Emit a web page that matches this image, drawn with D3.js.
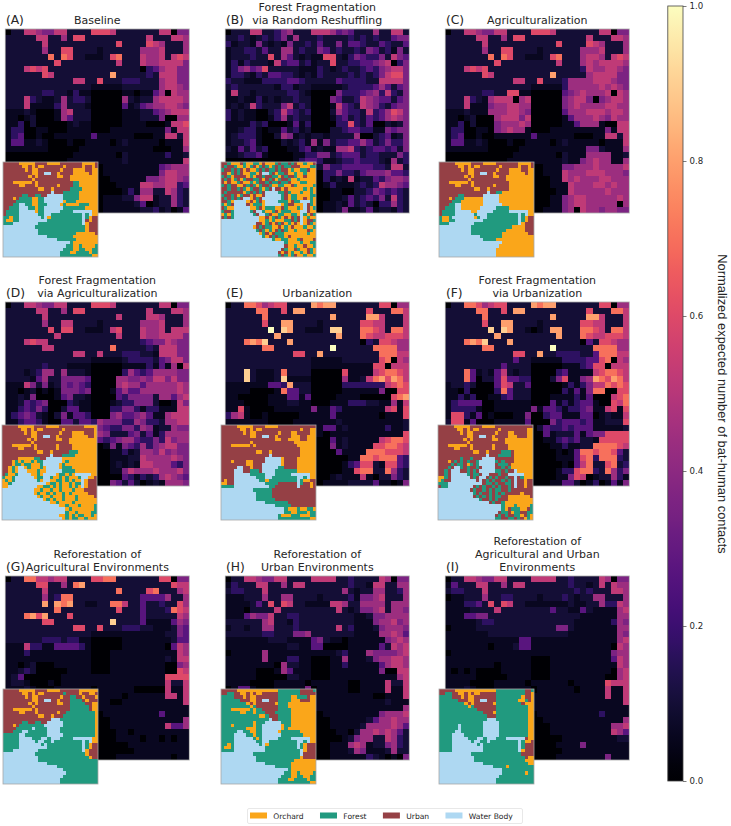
<!DOCTYPE html>
<html>
<head>
<meta charset="utf-8">
<script src="https://cdn.jsdelivr.net/npm/d3@7/dist/d3.min.js"></script>
<style>
  html, body { margin: 0; padding: 0; background: #fff; }
  text { font-family: "DejaVu Sans", sans-serif; fill: #262626; }
</style>
</head>
<body>
<svg id="chart" width="731" height="826"></svg>
<script>
// Contact level codes used in the grids below, and the normalized value of each.
const heatCodes = "0123456789abc";
const heatValues = [0, 0.06, 0.1, 0.17, 0.27, 0.36, 0.44, 0.52, 0.6, 0.7, 0.8, 0.9, 1];

const landNames = ["Orchard", "Forest", "Urban", "Water Body"];
const landCodes = ["o", "f", "u", "w"];
const landColors = ["#faa61a", "#219a7f", "#954045", "#aed8f2"];
const colorbarTicks = [0, 0.2, 0.4, 0.6, 0.8, 1];
const colorbarTitle = "Normalized expected number of bat-human contacts";

const letters = ["(A)", "(B)", "(C)", "(D)", "(E)", "(F)", "(G)", "(H)", "(I)"];
const titles = [
  ["Baseline"],
  ["Forest Fragmentation", "via Random Reshuffling"],
  ["Agriculturalization"],
  ["Forest Fragmentation", "via Agriculturalization"],
  ["Urbanization"],
  ["Forest Fragmentation", "via Urbanization"],
  ["Reforestation of", "Agricultural Environments"],
  ["Reforestation of", "Urban Environments"],
  ["Reforestation of", "Agricultural and Urban", "Environments"]
];

const heatA = [
"0227765577 2222888722 2222277055",
"2222277226 2882222222 2227222776",
"2222227222 2222222282 2228762226",
"2222226228 8222212222 2266672226",
"2222222929 8221112892 2276672787",
"2222222282 2222222272 2276677775",
"2227878222 2222222222 2203467755",
"2222228722 2222222a22 2223277755",
"2222222222 2772282223 3322267755",
"2222222222 2222111112 2222267765",
"2222223322 1311000001 1011460766",
"2227321126 2332000006 2122677776",
"2227111136 2221000004 1245667765",
"1112100016 7222000001 1122456777",
"1101200016 4222000001 1122250066",
"1130200000 1211000001 1110001778",
"1330011000 1111000111 1111115177",
"1340010011 1111411111 1000117727",
"1441121000 1001111012 1111101117",
"1111111000 0011111111 1111000116",
"0000000000 0111111102 1111113112",
"0000000000 1111111112 1111111117",
"0000000000 0000001111 1111145666",
"0000000000 0000001111 1111157766",
"0000000000 0000000111 1115567765",
"0000000000 0000000011 1177667734",
"0000000000 0000000001 3166227632",
"0000000000 0000001112 2577122632",
"0000000000 0000001111 1240122632",
"0000000000 0000001111 1122312014"];

const heatB = [
"0222772235 6222777645 4222622772",
"2232123235 2622232222 3232322455",
"3122152121 5223242252 4432243224",
"1223324226 6232254232 2325423152",
"1222322826 4212118821 3543352754",
"1313222173 4423122822 3344567035",
"1356458222 2211132123 2234356775",
"1332132443 3212132222 3232357885",
"3221113333 4432222243 3332277775",
"2322222213 3122111112 3333464245",
"1722122222 3321000053 3345637325",
"1121131212 2322000542 2376544245",
"1212732225 7232000174 3276532455",
"3121100237 4323000264 3327346875",
"3121100136 2322000134 2324346765",
"1111323000 1413000033 8324002125",
"1123310114 2312000223 4433115455",
"1233310026 5121221222 2600234125",
"1223410002 1231615233 4464235335",
"2142423000 1134121166 7323443425",
"1123341000 0113355234 4423322253",
"0000000000 0134431123 3433321623",
"0000000000 0122125334 4444332772",
"0000000000 0000003353 3245556443",
"0000000000 0000003121 7122435665",
"0000000000 0000001311 1232376654",
"0000000000 0000000110 0223543432",
"0000000000 0000000112 4234352732",
"0000000000 0000001121 4232033632",
"0000000000 0000001125 1124122132"];

const heatC = [
"0227765577 2222888722 2222277055",
"2222277226 2882222222 2227222776",
"2222227222 2222222282 2228762226",
"2222226228 8222212222 2266672226",
"2222222929 8221112892 2267762787",
"2222222282 2222222272 2267677776",
"2227878222 2222222222 2237667765",
"2222228722 2222222a22 2226777755",
"2222222222 2772282223 6666777655",
"2222222222 2222111113 6666676765",
"2222223322 8811000004 5676667076",
"2227321677 7067000005 6775056776",
"2227111566 7766000005 6766667766",
"1112111666 7765000004 6667776776",
"1101200067 7757000001 4666765766",
"1130200056 6676000001 1466610077",
"1330011056 7661000111 1111115177",
"1340010011 1111411111 1000117727",
"1441121000 1001111012 1111101117",
"1111111000 0011111111 1115521116",
"0000000000 0111111102 1116666112",
"0000000000 1111111112 1156766116",
"0000000000 0000001115 5666766667",
"0000000000 0000001117 6667776665",
"0000000000 0000000117 6766677666",
"0000000000 0000000111 7666776766",
"0000000000 0000000011 7666667666",
"0000000000 0000000115 6776666676",
"0000000000 0000000115 6776666606",
"0000000000 0000001115 6076656655"];

const heatD = [
"0227765577 2222888722 2222277055",
"2222277226 2882222222 2227222776",
"2222227222 2222222272 2227762226",
"2222226227 7222212222 2266672226",
"2222222828 8221112782 2276672777",
"2222222272 2222222272 2276677775",
"2227877222 2222222222 2234557655",
"2222227722 2222222922 2223277755",
"2222222222 2772272223 3322177755",
"2222222222 2222111112 3333245775",
"2222223222 1111000001 1113141607",
"2221236626 2221000003 6434666655",
"2222146225 5554000066 5565775755",
"1117525125 4543000067 6646666676",
"1101201015 5545000146 4466666676",
"1121500014 5221000043 5555266467",
"1124345000 3211000123 3555200175",
"1134353002 4411000335 5313311177",
"1345421025 1443000564 4564116777",
"1134431004 4244365553 3653326677",
"1545324100 0155654335 5365122655",
"4565335000 0117665222 4524136666",
"0000000000 0000043456 6433537566",
"0000000000 0000001515 4363567755",
"0000000000 0000000113 1266575655",
"0000000000 0000000111 2276666765",
"0000000000 0000000121 2177666435",
"0000000000 0000000115 7666766675",
"0000000000 0000000004 3132367654",
"0000000000 0000000542 4201216665"];

const heatE = [
"0229986788 2222a9aa22 2222288066",
"2222299228 2aa2222222 2228222997",
"2222229222 2222222a22 222aa72227",
"222222822a a222212222 2288772227",
"2222222c2b a221112bb2 2299872997",
"22222222a2 22222222a2 2298778887",
"2229a9b222 a222222222 2203288766",
"2222229922 2222222c22 2222999966",
"2222222222 2882 2a2222 2222299977",
"2222222222 2222111112 2222289076",
"2222222222 2222111111 1111880777",
"222b211129 2222000008 1111789987",
"222b21112b 1111000006 1127 9a8a97",
"1111111443 a222000003 3333337898",
"1111000019 4422000001 1111150088",
"1100000111 4414000011 110000089a",
"1110000111 2211000111 3332211617",
"1181000011 1111511431 1111117818",
"3671001000 0011111411 1111101118",
"1111111000 0111111121 1111111112",
"0000000000 0111114412 1111113112",
"0000000000 1111110111 1111111118",
"0000000000 0000000412 1111178998",
"0000000000 0000000512 1111889987",
"0000000000 0000000041 1119998887",
"0000000000 0000000000 1199899943",
"0000000000 0000000001 3488218843",
"0000000000 0000000001 1899229632",
"0000000000 0000000121 1171022532",
"0000000000 0000001111 2222411015"];

const heatF = [
"0229986788 2222a9aa22 2222288066",
"2222299228 2aa2222222 2228222997",
"2222229222 2222222a22 222aa72227",
"222222822a a222212222 2288772227",
"2222222b2b a221012aa2 2299872997",
"22222222a2 22222222a2 2298778887",
"2229a9b222 a222222222 2204288766",
"2222229922 2222222c22 2222999966",
"2222222222 2882 2a2233 3322499977",
"2222222222 2422111113 3334489076",
"2222222224 2222000001 1134880777",
"2229412147 2122000034 1111789987",
"2229402248 4433000258 1156a98a97",
"1223200048 7224000001 3135779898",
"1103000039 4222000003 1415990088",
"1131300113 4222000111 1314000789",
"1344440011 1111000413 1344100879",
"1333310011 1111514431 3345117818",
"1883140100 0115003441 1144012117",
"2881400011 1114000534 4434112228",
"0000000000 0000024334 3444111112",
"0000000000 0000004122 2414558888",
"0000000000 0000001134 3422188888",
"0000000000 0000000113 1122999987",
"0000000000 0000000010 1499899842",
"0000000000 0000000011 1489399932",
"0000000000 0000000001 0479228923",
"0000000000 0000000013 3899329635",
"0000000000 0000000011 5870122631",
"0000000000 0000000114 4201301415"];

const heatG = [
"0229977677 2222889922 2222288055",
"2222288226 29a2222222 2222222877",
"2222227222 2222222292 2228922267",
"2222226239 9222222222 2244446226",
"222222a2a9 a221122997 2242232286",
"2222222292 2222222282 2242223987",
"2229a8a222 8222222222 2242222276",
"2222228822 2222222b22 2241111465",
"2222222222 2882282223 3322111254",
"2222222222 2222111111 1111112254",
"2222223332 3311000001 1111111244",
"1117331144 4431000001 1111110476",
"1113111111 1111000111 1111111176",
"1111111111 1111000111 1111112177",
"1101200011 1111000111 1111110056",
"1123200000 1111000111 1111110087",
"1240000001 1111111111 1111118888",
"1221000101 1111111111 1111117227",
"1112100011 1111011111 1000007117",
"1111111000 0111111110 1111117717",
"0000000000 0111111001 1111111117",
"0000000000 1111111111 1111111111",
"0000000000 0000001111 1111141111",
"0000000000 0000000111 1111111116",
"0000000000 0000000111 1111117446",
"0000000000 0000000011 0111111111",
"0000000000 0000000011 1101101011",
"0000000000 0000000000 1111111111",
"0000000000 0000000000 0111111111",
"0000000000 0000000011 1111111011"];

const heatH = [
"0227765577 2222777722 3222276055",
"1322277226 2772222222 3221772266",
"2332227222 2222222226 2122662236",
"1112226226 6222212222 3155672226",
"1111242828 7221111776 2266662666",
"1110222272 2222222272 1255672665",
"1114655722 3322222222 2112556666",
"2222226722 1322222222 2111566756",
"1221226622 2322222272 3111256665",
"2222223322 2556222222 2111166764",
"1111111222 1111452110 1111115676",
"1111111111 2211440000 1111142767",
"0111116111 1111111123 1116555567",
"1111116111 3311000116 1112566776",
"1111111106 2211000113 1111146776",
"1111100016 4111000111 1111150077",
"1111100000 2211000111 1111111167",
"1111000011 1110111111 0011117227",
"0144100011 1115011111 0011117117",
"1111111000 0011111111 1111001117",
"0000000000 0111111111 1111112111",
"0000000000 1111111111 1111111116",
"0000000000 0000001111 1111156667",
"0000000000 0000000111 1112466766",
"0000000000 0000000111 1126666764",
"0000000000 0000000011 0266767642",
"0000000000 0000000001 2566227632",
"0000000000 0000000111 6761225632",
"0000000000 0000000111 2651112622",
"0000000000 0000000111 1113210105"];

const heatI = [
"0227765577 2222777722 3222276055",
"1422277226 2772222222 3221272766",
"2332227222 2222222222 2323222776",
"0112226223 3222212223 2122662226",
"1113342828 7221111111 2112263376",
"1111222272 2222222422 1142111167",
"1114455222 2222222222 2211111166",
"1111123322 2222222222 2111111365",
"0111122222 2222222255 2111111166",
"1111111222 2222222222 1111111165",
"1111111111 1144111111 1111111167",
"1111111011 1244111111 1111111076",
"0111111111 1111111111 1111111566",
"1111111111 1111000111 1111111476",
"1111111101 1111000111 1111111176",
"1010100001 1111000111 1111111067",
"1111100000 1111000111 1111110067",
"1111000011 1110111111 0111118777",
"1112100011 1111011111 1011117117",
"1111111000 0011111111 1111117117",
"0000000000 1111111111 1111111117",
"0000000000 1111111111 1111111111",
"0000000000 0000011111 1111131111",
"0000000000 0000001111 1111111116",
"0000000000 0000000111 1111111667",
"0000000000 0000000111 1111111764",
"0000000000 0000000001 1111111122",
"0000000000 0000000011 1151111111",
"0000000000 0000000001 1111111111",
"0000000000 0000000011 1111115111"];

const landA = [
"uuuuuooooo uuuuoooouu uuuuuoooou",
"uuuuuuoouo uoouuuuuuo uuuuuouuou",
"uuuuuuuouo ouuuuuuuou uuoooouuoo",
"uuuuuuuuuo ouuwwuuouu uuooooouoo",
"uuuuuuuuou ouuuuuuoou uooooooooo",
"uuuuuuuuuo uuuuuuuuuu uooooooooo",
"uuuoooooou ouuuuuuuuu uuffoooooo",
"uuuuuoouuu ouuuuuuouu uuffoooooo",
"uuuuuuuuuu uoouuouuuu uffffooooo",
"uuuuuuuuuu uuuuuwuuuf ffffoooooo",
"uuuuuuffuu ffuuwwwwwf ffffoooooo",
"uuuouffffo offwwwwwwf ffffoooooo",
"uuuufffffo offwwwwwwo fffooooooo",
"uuuffwwffo offfwwwwof oooofffooo",
"uufffwwwff offwwwwwwf ffffffoooo",
"uffffwwwww offwwwwwff ffwwwwwwoo",
"uffffwwwww wffwwfffff fffffwfwoo",
"ffoffwwwww wwfwofffff fffffwfouu",
"fooffwwwww wwwwffffff fffffwuouu",
"fffwwwwwww wfffffffff fffffwouuu",
"wwwwwwwwww ffffffffff ffffffouuu",
"wwwwwwwwww wfffffffff ffffffouuu",
"wwwwwwwwww wfffffffff fffoooooou",
"wwwwwwwwww wwwwffffff ffoooooooo",
"wwwwwwwwww wwwwwwwfff fffooooooo",
"wwwwwwwwww wwwwwwwwww wfoooooooo",
"wwwwwwwwww wwwwwwwwww ffoofoooof",
"wwwwwwwwww wwwwwwwwwf ffooffooff",
"wwwwwwwwww wwwwwwwwff fooffffoff",
"wwwwwwwwww wwwwwwwwff ffffffffoo"];

const landB = [
"uufoooufoo ffouooofuf fufuoofoou",
"ufuufoofof uofufofufu ffuuuoooff",
"fuufufuouo ofufuffufu uofooffuoo",
"uuofufuoof fouwwfuoff uoofoofooo",
"fufouuuuof ouufuuffou fuufoouooo",
"ufuofuofuu ffuoufuofu ufoofooooo",
"uouoofuoof ofuufuffuf fuoooffooo",
"fufuuooufu fofuufooff ooufooooof",
"uufuufufof uufofuwuuo uooooofofo",
"ufuuuuuofu fufuwwwwff ufooofoofo",
"fuufuofuuo uoouwwwwwf uoffooooff",
"ufufufuwwo ufuwwwwwwf uoffoouofo",
"uufowwwwou ofuowwwwff fouffwwwfo",
"fofuwwwwuo fffowwwwwo fuuooowufo",
"ufoowwwwwo ofuofffoou fooofowuof",
"fuufwwwwwf uwwfoofuof ffooowwuoo",
"ofofwwwwww fuwwfuooff ooffowfouf",
"ufufwwwwww wwoouofufo uoufuwofoo",
"wwwwwwwwww wwoofofooo ffufuwouuf",
"wwwwwwwwww wuuofuoufu ofouowoufo",
"wwwwwwwwww oufuffoouo fouooofoof",
"wwwwwwwwww wfufofoufu foofoooufo",
"wwwwwwwwww wwofuoufff ooooooofoo",
"wwwwwwwwww wwwfoufuff ouoooooooo",
"wwwwwwwwww wwwwwwfoof fooofuooou",
"wwwwwwwwww wwwwwwwwww foooofooff",
"wwwwwwwwww wwwwwwwwww uoofoouoof",
"wwwwwwwwww wwwwwwwwwu fooufooufo",
"wwwwwwwwww wwwwwwwwuo uofoofoufo",
"wwwwwwwwww wwwwwwwwfu fofuoofoof"];

const landC = [
"uuuuuooooo uuuuoooouu uuuuuoooou",
"uuuuuuoouo uoouuuuuuo uuuuuouuou",
"uuuuuuuouo ouuuuuuuou uuoooouuoo",
"uuuuuuuuuo ouuwwuuouu uuooooouoo",
"uuuuuuuuou ouuuuuuoou uooooooooo",
"uuuuuuuuuo uuuuuuuuuu uooooooooo",
"uuuoooooou ouuuuuuuuu uuoooooooo",
"uuuuuoouuu ouuuuuuouu uuoooooooo",
"uuuuuuuuuu uoouuouuuu uuoooooooo",
"uuuuuuuuuu uuuuuwuuff oooooooooo",
"uuuuuuffuu uuuuwwwwwo oooooooooo",
"uuuoufffoo oooowwwwwo oooooooooo",
"uuuufffooo oooowwwwwo oooooooooo",
"uuuffwwooo oooowwwwww oooooooooo",
"uufffwwooo ooowwwwwff ffoooooooo",
"uffffwwwww oowwwwwfff ffwwwwwwoo",
"uffffwwwww wfwwwfffff fffffwfwoo",
"foofwwwwww wofwwfffff fffffwfouu",
"fooffwwwww wwwwffffff fffffwfouu",
"fffwwwwwww wfffffffff fffffwouuu",
"wwwwwwwwww ffffffffff fffoooouuu",
"wwwwwwwwww ffffffffff foooooouuu",
"wwwwwwwwww ffffffffff oooooooouu",
"wwwwwwwwww wwwfffffff oooooooooo",
"wwwwwwwwww wwwwffffoo oooooooooo",
"wwwwwwwwww wwwwwwwwww oooooooooo",
"wwwwwwwwww wwwwwwwwwo oooooooooo",
"wwwwwwwwww wwwwwwwwoo oooooooooo",
"wwwwwwwwww wwwwwwwwoo oooooooooo",
"wwwwwwwwww wwwwwwwwoo oooooooooo"];

const landD = [
"uuuuuooooo uuuuoooouu uuuuuuoooo",
"uuuuuuoouo uoouuuuuuo uuuuuuuuuo",
"uuuuuuuouo ouuuuuuuou uuoooouuuo",
"uuuuuuuuuo ouuwwuuouu uuooooouuo",
"uuuuuuuuou ouuuuuuoou uooooooooo",
"uuuuuuuuuo uuuuuuuuuu uooooooooo",
"uuuoooooou ouuuuuuouu uuoooooooo",
"uuuuuoouuu ouuuuuuouu uuoooooooo",
"uuuuuuuuuu uoouuouuuu ufffoooooo",
"uuuuuuuuuu uuuuuwuuuf fffooooooo",
"uuuuuooooo ffuuwwwwwo oooooooooo",
"uuuofofoof offwwwwwwo fooooooooo",
"uuuoffoffo oofwwwwwof oooooooooo",
"uuofowwofo oofowwwwof ffoooooooo",
"uuofowwwoo ofoowwwwwf fffooooooo",
"ufoofwwwwo ofowwwwoff ofowwwwwoo",
"foofwwwwww offwwfoofo fooofwwoou",
"ofofwwwwww wfowwooffo fofoowouuu",
"oofwwwwwww wwwwoffofo ofoffwouuu",
"oowwwwwwww wooffofofo ofofowouuu",
"wwwwwwwwww oofoofoofo oofooouuuu",
"wwwwwwwwww ofoofofoof ofooooouuu",
"wwwwwwwwww wofoofooof ooofooooou",
"wwwwwwwwww wwwofofoof ooofoooooo",
"wwwwwwwwww wwwwwoofoo oofooooooo",
"wwwwwwwwww wwwwwwwwoo fooofoooof",
"wwwwwwwwww wwwwwwwwww ofooooooof",
"wwwwwwwwww wwwwwwwwww foofooooff",
"wwwwwwwwww wwwwwwwwoo fofoffoofo",
"wwwwwwwwww wwwwwwwwwo foffoofooo"];

const landE = [
"uuuuuooooo uuuuoooouu uuuuuuuuuu",
"uuuuuuoouo uoouuuuuuu uuuuuouuoo",
"uuuuuuuouo ouuuuuuuou uuoouuuuoo",
"uuuuuuuuuo ouuwwuuouu uuooouuooo",
"uuuuuuuuuu uuuuuuuoou uoooouuooo",
"uuuuuuuuuo uuuuuuuuuu uuuooooooo",
"uuuoooooou ouuuuuuuuu uuuuoooooo",
"uuuuuuuuuu uuuuuuuuuu uuuuuooooo",
"uuuuuuuuuu uoouuouuuu uuuuuooooo",
"uuuuuuuuuu uuuuuwuuuu uuuuuooooo",
"uuuuuuuuuu uuuuwwwwwo uuuuoooooo",
"uuuouuuuoo uuuuwwwwwo uuuuoooooo",
"uuuuuuuuoo uuuwwwwwwo uuuuoooooo",
"uuuuuwwuuo uuuwwwwwff uuuuoooooo",
"uuuuwwwuuf ffuwwwwfff ffffoooooo",
"uuuuwwwwwf ffffwwwfff ffwwwwwwoo",
"uuuuwwwwww wfffwwffff ffffwwfwoo",
"uouuwwwwww wwffofffff ffffwfoouu",
"oouuwwwwww wwwwffffuu uuuuwfuuou",
"ffffwwwwww wwwwwffuuu uuuuwuuuou",
"wwwwwwwwww ffffffuuuu uuuuuuuuuu",
"wwwwwwwwww wfffffuuuu uuuuuuuuuu",
"wwwwwwwwww wfffffuuuu uuuuuuuuuu",
"wwwwwwwwww wffffffuuu uuuuuuuuuu",
"wwwwwwwwww wwwwffffff fuuuuuuuuu",
"wwwwwwwwww wwwwwwwfff ffuuuuuuuu",
"wwwwwwwwww wwwwwwwwww fooofooffo",
"wwwwwwwwww wwwwwwwwww ffoofffoff",
"wwwwwwwwww wwwwwwwwfo oofffoooff",
"wwwwwwwwww wwwwwwwwff ffffffffoo"];

const landF = [
"uuuuuooooo uuuuoooouu uuuuuuuuuu",
"uuuuuuoouo uoouuuuuuo uuuuuuuuoo",
"uuuuuuuouo ouuuuuuuou uuoouuuuoo",
"uuuuuuuuuo ouuwwuuouu uuooouuuoo",
"uuuuuuuuou ouuuuuuoou uooooooooo",
"uuuuuuuuuo uuuuuuuuuu uooooooooo",
"uuuoooooou ouuuuuuouu uuoooooooo",
"uuuuuoouuu ouuuuuuouu uuoooooooo",
"uuuuuuuuuu uoouuouuuu fffuoooooo",
"uuuuuuuuuu uuuuuwuuuf fffuoooooo",
"uuuuuuufuu fuuuwwwwuu uuuuoooooo",
"uuuoufufuf uufwwwwwfu fuuuoooooo",
"uuuufuffuo fufwwwwwuf ffuooooooo",
"uuufuwwfuf uufuwwwwuu fufooooooo",
"uufuwwwuuf ufuwwwwwff ufuuwooooo",
"uufuwwwwwf uffuwwuuuf uuwwwwwooo",
"oofuwwwwww ufuwwufufu ufuuwufooo",
"ofuuwwwwww wwuwufufuu fufuwuuouu",
"fffwwwwwww wwwwuffufu uffuwuuouu",
"uffwwwwwww wufufuufuf uufuwuuouu",
"wwwwwwwwww ufuufufuff uufuuuuuuu",
"wwwwwwwwww wfufuufufu fuuuuuouuu",
"wwwwwwwwww wufufufuff uuooooooou",
"wwwwwwwwww wwwfuufufu uuoooooooo",
"wwwwwwwwww wwwwwwufuu fooooooooo",
"wwwwwwwwww wwwwwwwwww fooofoooof",
"wwwwwwwwww wwwwwwwwww foufffoouf",
"wwwwwwwwww wwwwwwwwwu ffuoffuuff",
"wwwwwwwwww wwwwwwwwuf ufuuffoufo",
"wwwwwwwwww wwwwwwwwff uuffufuofo"];

const landG = [
"uuuuuooooo uuuuoooouu uuuuoooooo",
"uuuuuuoouo uoouuuuuuf uuuuouuoou",
"uuuuuuuouo ouuuuuuuou uffuuouuuo",
"uuuuuuuuuo ouuwwuuouu uffffuouuu",
"uuuuuuuuou ouuuuuuoou ufffffuuoo",
"uuuuuuuuuo uuuuuuuuuu uffffffuoo",
"uuuoooooou ouuuuuuuuu uffffffuoo",
"uuuuuoouuu ouuuuuuouu fffffffffo",
"uuuuuuuuuu uoouuouuuf fffffffffo",
"uuuuuuuuuu uuuuuwwwff fffffffffo",
"uuuuuuffuu ffuuwwwwwf fffffffffo",
"uuuoufffff fffwwwwwwf fffffffffo",
"uuuufffffw ffffwwwwff fffffffffo",
"uuufffwwff ffffwwwwff fffffffffo",
"fffffwwfff ffffwwwwwf fffffffffo",
"fffffwwwwf ffwwfwwwff ffwwwwwwoo",
"fffffwwwww fwwffwffff fffffwfwoo",
"fffffwwwww wwfwffffff fffffwfouu",
"fffffwwwww wwwwffffff fffffwfouu",
"fffwwwwwww wfffffffff fffffwouuu",
"wwwwwwwwww ffffffffff ffffffouuu",
"wwwwwwwwww wfffffffff fffffffouu",
"wwwwwwwwww wfffffffff ffffffffff",
"wwwwwwwwww wwwwffffff ffffffffff",
"wwwwwwwwww wwwwwwwfff ffffffffff",
"wwwwwwwwww wwwwwwwwwf ffffffffff",
"wwwwwwwwww wwwwwwwwww ffffffffff",
"wwwwwwwwww wwwwwwwwwf ffffffffff",
"wwwwwwwwww wwwwwwwwff ffffffffff",
"wwwwwwwwww wwwwwwwwff ffffffffff"];

const landH = [
"uuuuuooooo ooooooooff fffffuuuuf",
"uuffuuoouo uoouuuuuff fffffuuuuu",
"ffffuuuouo ouuuuuuuff ffoofffuoo",
"ffffffuuuo ouuwwuuuff ffooouuuoo",
"ffffffffou ouuuuuuoff fooooooooo",
"fffffffffo fuuuuuuuff fooooooooo",
"fffoooooof offuuuuuff ffoooooooo",
"ffffffooff offfuuufff ffoooooooo",
"ffffffffff ffoofuuuff ffoooooooo",
"ffffffffff fffffwuuff ffoooooooo",
"ffffffffff offfwwwwwf ffoooooooo",
"fffoffffff offwwwwwwo ffoooooooo",
"ffffffffoo offwwwwwwo fooooooooo",
"fffffwwffo offwwwwwof fffffooooo",
"ffffwwwwff offwwwwwwf ffffffoooo",
"ffffwwwwww fofwwwwwff ffwwwwwwoo",
"ffffwwwwww wffwwfffff ffffwwfwoo",
"ffofwwwwww wwfwofffff ffffwfouuu",
"foofwwwwww wwwwffffff ffffwfouuu",
"ffffwwwwww wwwwffffff fffffwouuu",
"wwwwwwwwww ffffffffff fffffwuuuu",
"wwwwwwwwww wfffffffff fffffouuuu",
"wwwwwwwwww wfffffffff fffooooooo",
"wwwwwwwwww wwwwffffff ffoooooooo",
"wwwwwwwwww wwwwwwwfff ffoooooooo",
"wwwwwwwwww wwwwwwwwww wfoooooooo",
"wwwwwwwwww wwwwwwwwww ffoofoooof",
"wwwwwwwwww wwwwwwwwwf ffooffooff",
"wwwwwwwwww wwwwwwwwff fooffffoff",
"wwwwwwwwww wwwwwwwwff ffffffffoo"];

const landI = [
"uuuuuooooo ooooooooff fffffffuuf",
"uuffuuoouo uoouuuuuff fffffffuuo",
"ffffuuuouo ouuuuuuuff ffffffouuo",
"ffffffuuuo ouuwwuuuff fffffoofuo",
"ffffffffou ouuuuuuoff ffffffuooo",
"fffffffffo fuuuuuuuff ffffffffoo",
"ffffffffff ffuuuuuuff ffffffffoo",
"ffffffffff ffffuuuoff ffffffffoo",
"ffffffffff fffffuuuff ffffffffoo",
"ffffffffff fffffwwwff ffffffffoo",
"ffffffffff ffffwwwwwf ffffffffoo",
"ffffffwfff ffffwwwwwf ffffffffoo",
"ffffffwfff ffffwwwwwf ffffffffoo",
"fffffwwfff ffffwwwwwf ffffffffoo",
"ffffwwwwff ffffwwwwwf ffffffffoo",
"ffffwwwwwf ffwwfwwwff fwwwwwwuoo",
"ffffwwwwww fwwffwffff fffffwfoou",
"ffffwwwwww wwfwffffff fffffwfuuu",
"ffffwwwwww wwwwffffff fffffwfuuu",
"ffffwwwwww wwwwffffff fffffwouuu",
"wwwwwwwwww ffffffffff ffffffuuuu",
"wwwwwwwwww wfffffffff fffffffuoo",
"wwwwwwwwww wfffffffff fffffffooo",
"wwwwwwwwww wwwwffffff ffffffffoo",
"wwwwwwwwww wwwwwwwfff foffffffff",
"wwwwwwwwww wwwwwwwwww ffffffffff",
"wwwwwwwwww wwwwwwwwww fffffffoff",
"wwwwwwwwww wwwwwwwwwf ffffffffff",
"wwwwwwwwww wwwwwwwwff ffffffffff",
"wwwwwwwwww wwwwwwwwff ffffffffff"];

const heatGrids = [heatA, heatB, heatC, heatD, heatE, heatF, heatG, heatH, heatI];
const landGrids = [landA, landB, landC, landD, landE, landF, landG, landH, landI];

// Panel layout: heat map origin plus where each land-use inset sits.
const colX = [5.3, 225.3, 445.3];
const rowY = [29, 302, 576];
const insetX = [[3, 221, 439], [2, 221, 438], [3, 221, 439]];
const insetY = [162, 425, 689];
const heatSize = 184;
const insetSize = 95;

const svg = d3.select("#chart");
const color = d3.scaleSequential(d3.interpolateMagma).domain([0, 1]);
const levelScale = d3.scaleOrdinal().domain(heatCodes.split("")).range(heatValues);
const landScale = d3.scaleOrdinal().domain(landCodes).range(landColors);
const gridIndex = d3.range(30);

function cells(rows) {
  return rows.flatMap((row, r) =>
    row.replace(/\s/g, "").split("").slice(0, 30).map((code, c) => ({ r, c, code })));
}

function drawGrid(parent, rows, x0, y0, size, fill, strokeColor) {
  const x = d3.scaleBand().domain(gridIndex).range([x0, x0 + size]);
  const y = d3.scaleBand().domain(gridIndex).range([y0, y0 + size]);
  const g = parent.append("g");
  g.append("g").attr("shape-rendering", "crispEdges")
    .selectAll("rect").data(cells(rows)).join("rect")
    .attr("x", d => x(d.c)).attr("y", d => y(d.r))
    .attr("width", x.bandwidth()).attr("height", y.bandwidth())
    .attr("fill", fill);
  g.append("rect").attr("x", x0).attr("y", y0).attr("width", size).attr("height", size)
    .attr("fill", "none").attr("stroke", strokeColor).attr("stroke-width", 0.8);
}

heatGrids.forEach((grid, i) => {
  const col = i % 3, row = Math.floor(i / 3);
  const px = colX[col], py = rowY[row];
  const panel = svg.append("g");
  drawGrid(panel, grid, px, py, heatSize, d => color(levelScale(d.code)), "#aaaaaa");
  drawGrid(panel, landGrids[i], insetX[row][col], insetY[row], insetSize, d => landScale(d.code), "#a8a8a8");

  const lines = titles[i];
  lines.forEach((line, k) => {
    panel.append("text")
      .attr("x", px + heatSize / 2)
      .attr("y", py - 5.5 - (lines.length - 1 - k) * 12.6)
      .attr("text-anchor", "middle")
      .attr("font-size", 11)
      .text(line);
  });
  panel.append("text").attr("x", px + 0.6).attr("y", py - 5)
    .attr("font-size", 12.3).text(letters[i]);
});

// Colour bar with its axis on the right-hand side.
const barX = 667.8, barW = 15.2, barTop = 6, barBottom = 781;
const barScale = d3.scaleLinear().domain([0, 1]).range([barBottom, barTop]);
const defs = svg.append("defs");
const grad = defs.append("linearGradient").attr("id", "magmaBar")
  .attr("x1", 0).attr("x2", 0).attr("y1", 1).attr("y2", 0);
d3.range(0, 1.001, 0.02).forEach(t =>
  grad.append("stop").attr("offset", t).attr("stop-color", color(t)));
svg.append("rect").attr("x", barX).attr("y", barTop)
  .attr("width", barW).attr("height", barBottom - barTop)
  .attr("fill", "url(#magmaBar)").attr("stroke", "#444").attr("stroke-width", 0.8);
const barAxis = svg.append("g").attr("transform", `translate(${barX + barW},0)`)
  .call(d3.axisRight(barScale).tickValues(colorbarTicks).tickFormat(d3.format(".1f")).tickSize(3.5).tickPadding(3));
barAxis.select(".domain").remove();
barAxis.selectAll("line").attr("stroke", "#444").attr("stroke-width", 0.7);
barAxis.selectAll("text").attr("font-size", 8.6).attr("font-family", "DejaVu Sans").attr("fill", "#262626");
svg.append("text")
  .attr("transform", "translate(717.5,404) rotate(90)")
  .attr("text-anchor", "middle")
  .style("font-family", '"Liberation Sans", sans-serif').attr("font-size", 12.9)
  .text(colorbarTitle);

// Land-use legend along the bottom edge; each entry follows the width of the previous label.
const legend = svg.append("g");
legend.append("rect").attr("x", 247.5).attr("y", 808.5).attr("width", 275).attr("height", 15)
  .attr("rx", 1.5).attr("fill", "#fff").attr("stroke", "#e2e2e2").attr("stroke-width", 0.8);
let legendCursor = 250;
landNames.forEach((name, i) => {
  legend.append("rect").attr("x", legendCursor).attr("y", 812.5).attr("width", 17).attr("height", 6)
    .attr("fill", landScale(landCodes[i]));
  const label = legend.append("text").attr("x", legendCursor + 23.3).attr("y", 818.6)
    .attr("font-size", 7.6).text(name);
  legendCursor += 23.3 + label.node().getComputedTextLength() + 16.3;
});
</script>
</body>
</html>
